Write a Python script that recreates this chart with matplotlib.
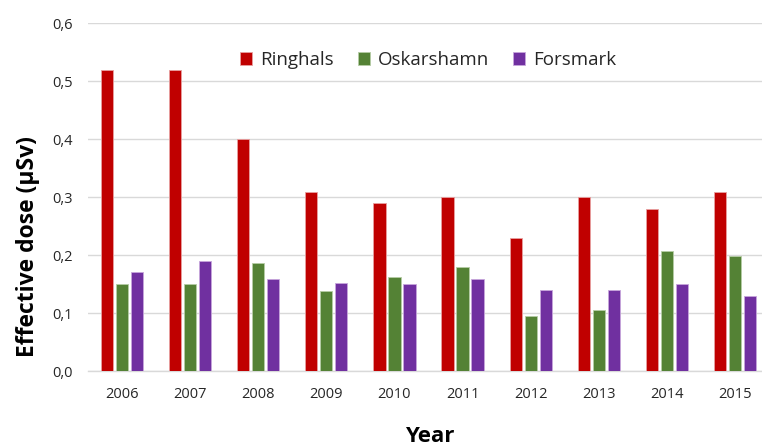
import numpy as np
import matplotlib.pyplot as plt

plt.rcParams["font.family"] = ["Open Sans", "DejaVu Sans"]

# Data
years = ["2006", "2007", "2008", "2009", "2010", "2011", "2012", "2013", "2014", "2015"]
ringhals = [0.52, 0.52, 0.40, 0.31, 0.29, 0.30, 0.23, 0.30, 0.28, 0.31]
oskarshamn = [0.15, 0.15, 0.187, 0.138, 0.163, 0.18, 0.095, 0.106, 0.207, 0.199]
forsmark = [0.171, 0.191, 0.16, 0.152, 0.151, 0.16, 0.14, 0.14, 0.15, 0.13]

series = [
    ("Ringhals", ringhals, "#C00000", "#E8A0A0"),
    ("Oskarshamn", oskarshamn, "#548235", "#B5CCA5"),
    ("Forsmark", forsmark, "#7030A0", "#C7A6DC"),
]

fig = plt.figure(figsize=(7.62, 4.48), dpi=100)
ax = fig.add_axes([88 / 762, 1 - 371.3 / 448, 681 / 762, (371.3 - 23.3) / 448])

x = np.arange(len(years))
offset = 0.22
width = 0.18
for i, (name, vals, col, edge) in enumerate(series):
    ax.bar(x + (i - 1) * offset, vals, width, color=col, edgecolor=edge,
           linewidth=0.6, label=name, zorder=3)

ax.set_xlim(-0.5, len(years) - 0.5)
ax.set_ylim(0, 0.6)
ax.set_yticks(np.arange(0, 0.61, 0.1))
ax.set_yticklabels([f"{v:.1f}".replace(".", ",") for v in np.arange(0, 0.61, 0.1)])
ax.set_xticks(x)
ax.set_xticklabels(years)

ax.tick_params(axis="both", length=0, labelsize=10.5, colors="#262626")
ax.tick_params(axis="y", pad=11)
ax.tick_params(axis="x", pad=11)

ax.grid(axis="y", color="#D9D9D9", linewidth=1, zorder=0)
for s in ["top", "right", "left"]:
    ax.spines[s].set_visible(False)
ax.spines["bottom"].set_color("#D9D9D9")
ax.spines["bottom"].set_linewidth(1)

leg = ax.legend(loc="center", bbox_to_anchor=(428 / 762, 1 - 60 / 448),
                bbox_transform=fig.transFigure, ncol=3, frameon=False,
                fontsize=13.5, handlelength=0.65, handleheight=0.65,
                handletextpad=0.4, columnspacing=1.3)
for t in leg.get_texts():
    t.set_color("#262626")

fig.text(28 / 762, 1 - 247 / 448, "Effective dose (µSv)", rotation=90,
         ha="center", va="center", fontsize=16.5, fontweight="bold")
fig.text(430 / 762, 1 - 436 / 448, "Year", ha="center", va="center",
         fontsize=16, fontweight="bold")

fig.savefig("out.png", dpi=100)
